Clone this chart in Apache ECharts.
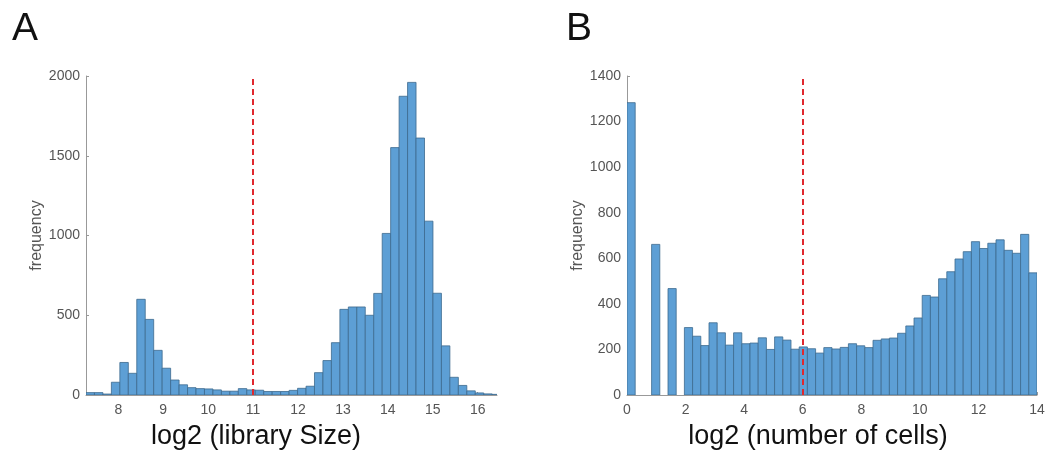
<!DOCTYPE html>
<html>
<head>
<meta charset="utf-8">
<script src="https://cdn.jsdelivr.net/npm/echarts@6/dist/echarts.min.js"></script>
<style>
    html, body { margin: 0; padding: 0; background: #fff; }
    #chart { width: 1059px; height: 459px; }
</style>
</head>
<body>
<div id="chart"></div>
<script>
// panel A: log2 library size histogram
var libBinStart = 7.28;
var libBinWidth = 0.1884;
var libCounts = [15, 15, 6, 80, 204, 136, 600, 474, 280, 168,
    94, 64, 46, 40, 38, 32, 24, 24, 40, 32,
    30, 22, 22, 22, 29, 42, 55, 140, 216, 328,
    537, 552, 552, 500, 637, 1013, 1551, 1873, 1960, 1611,
    1090, 638, 308, 111, 60, 26, 13, 7, 4];
var libTicks = [8, 9, 10, 11, 12, 13, 14, 15, 16];
var libCutoff = 11;

// panel B: log2 number of cells histogram
var cellBinStart = 0;
var cellBinWidth = 0.28;
var cellCounts = [1283, 0, 0, 661, 0, 467, 0, 296, 258, 217,
    317, 273, 219, 273, 225, 228, 251, 200, 255, 241,
    201, 211, 203, 184, 208, 202, 209, 225, 216, 208,
    240, 246, 250, 271, 303, 338, 437, 430, 510, 541,
    597, 629, 673, 643, 666, 681, 635, 622, 705, 536];
var cellTicks = [0, 2, 4, 6, 8, 10, 12, 14];
var cellCutoff = 6;

var barColor = '#5d9fd5';
var edgeColor = '#3c6a8e';
var cutColor = '#e0282e';
var fontName = 'Liberation Sans';

function binData(start, width, counts) {
    var out = [];
    for (var i = 0; i < counts.length; i++) {
        out.push([start + i * width, start + (i + 1) * width, counts[i]]);
    }
    return out;
}

function renderBin(params, api) {
    var lo = api.coord([api.value(0), 0]);
    var hi = api.coord([api.value(1), api.value(2)]);
    if (api.value(2) <= 0) {
        return;
    }
    return {
        type: 'rect',
        shape: { x: lo[0], y: hi[1], width: hi[0] - lo[0], height: lo[1] - hi[1] },
        style: api.style({ fill: barColor, stroke: edgeColor, lineWidth: 0.8 })
    };
}

function plainNumber(v) {
    return String(v);
}

function valueAxis(idx, max, step) {
    return {
        type: 'value', gridIndex: idx, min: 0, max: max, interval: step,
        name: 'frequency', nameLocation: 'middle', nameGap: 40,
        nameTextStyle: { fontFamily: fontName, fontSize: 16, color: '#555' },
        axisLine: { show: true, lineStyle: { color: '#999', width: 1 } },
        axisTick: { show: true, inside: true, length: 3, lineStyle: { color: '#999' } },
        axisLabel: { fontFamily: fontName, fontSize: 14, color: '#555', margin: 6, formatter: plainNumber },
        splitLine: { show: false }
    };
}

function cutLine(x) {
    return {
        silent: true, symbol: 'none',
        label: { show: false },
        lineStyle: { color: cutColor, type: [6, 4], width: 2 },
        data: [{ xAxis: x }]
    };
}

var chart = echarts.init(document.getElementById('chart'));
chart.setOption({
    animation: false,
    title: [
        { text: 'A', left: 7, top: 5, textStyle: { fontFamily: fontName, fontSize: 39, fontWeight: 'normal', color: '#111' } },
        { text: 'B', left: 561, top: 5, textStyle: { fontFamily: fontName, fontSize: 39, fontWeight: 'normal', color: '#111' } }
    ],
    grid: [
        { left: 86, top: 76, width: 411, height: 319 },
        { left: 627, top: 76, width: 410, height: 319 }
    ],
    xAxis: [{
        type: 'value', gridIndex: 0, min: libBinStart, max: 16.43,
        name: 'log2 (library Size)', nameLocation: 'middle', nameGap: 28,
        nameTextStyle: { fontFamily: fontName, fontSize: 27, color: '#111', padding: [0, 71, 0, 0] },
        axisLine: { show: true, onZero: false, lineStyle: { color: '#999', width: 1 } },
        axisTick: { show: true, inside: true, length: 3, customValues: libTicks, lineStyle: { color: '#999' } },
        axisLabel: { fontFamily: fontName, fontSize: 14, color: '#555', margin: 8, customValues: libTicks },
        splitLine: { show: false }
    }, {
        type: 'value', gridIndex: 1, min: 0, max: 14, interval: 2,
        name: 'log2 (number of cells)', nameLocation: 'middle', nameGap: 28,
        nameTextStyle: { fontFamily: fontName, fontSize: 27, color: '#111', padding: [0, 28, 0, 0] },
        axisLine: { show: true, onZero: false, lineStyle: { color: '#999', width: 1 } },
        axisTick: { show: true, inside: true, length: 3, customValues: cellTicks, lineStyle: { color: '#999' } },
        axisLabel: { fontFamily: fontName, fontSize: 14, color: '#555', margin: 8, customValues: cellTicks },
        splitLine: { show: false }
    }],
    yAxis: [valueAxis(0, 2000, 500), valueAxis(1, 1400, 200)],
    series: [{
        type: 'custom', xAxisIndex: 0, yAxisIndex: 0,
        renderItem: renderBin, clip: true,
        encode: { x: [0, 1], y: 2 },
        data: binData(libBinStart, libBinWidth, libCounts),
        markLine: cutLine(libCutoff)
    }, {
        type: 'custom', xAxisIndex: 1, yAxisIndex: 1,
        renderItem: renderBin, clip: true,
        encode: { x: [0, 1], y: 2 },
        data: binData(cellBinStart, cellBinWidth, cellCounts),
        markLine: cutLine(cellCutoff)
    }]
});
</script>
</body>
</html>
